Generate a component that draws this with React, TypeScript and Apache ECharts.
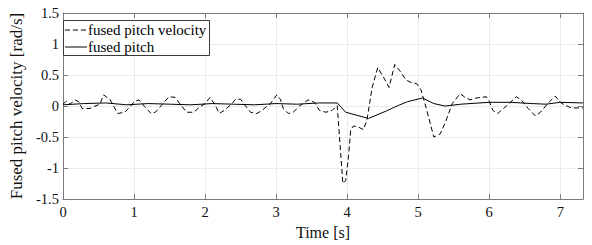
import React, { useEffect, useRef } from "react";
import * as echarts from "echarts";

// Data
const velocityTime = [
  0, 0.05, 0.1, 0.17, 0.22, 0.27, 0.38, 0.45, 0.52, 0.57, 0.66, 0.77, 0.87, 0.94, 1.0, 1.07, 1.15,
  1.24, 1.3, 1.4, 1.49, 1.58, 1.65, 1.74, 1.84, 1.93, 2.0, 2.07, 2.14, 2.2, 2.27, 2.37, 2.43, 2.5,
  2.57, 2.64, 2.73, 2.8, 2.92, 3.01, 3.06, 3.1, 3.17, 3.24, 3.33, 3.45, 3.54, 3.61, 3.7, 3.79, 3.86,
  3.94, 3.98, 4.02, 4.05, 4.09, 4.16, 4.23, 4.28, 4.35, 4.43, 4.51, 4.59, 4.67, 4.74, 4.83, 4.9,
  4.98, 5.04, 5.11, 5.22, 5.31, 5.38, 5.48, 5.59, 5.66, 5.73, 5.82, 5.89, 5.96, 6.0, 6.05, 6.12,
  6.2, 6.28, 6.38, 6.45, 6.55, 6.65, 6.72, 6.84, 6.93, 7.0, 7.07, 7.16, 7.27, 7.32,
];
const velocityValues = [
  0.03, 0.08, 0.03, 0.1, 0.07, -0.04, -0.04, 0.0, 0.03, 0.18, 0.11, -0.12, -0.1, -0.02, 0.07, 0.1,
  -0.01, -0.12, -0.1, 0.03, 0.15, 0.14, 0.03, -0.1, -0.1, -0.01, 0.04, 0.14, 0.02, -0.12, -0.07,
  0.03, 0.11, 0.11, 0.0, -0.1, -0.12, -0.07, 0.04, 0.18, 0.11, -0.04, -0.12, -0.1, 0.0, 0.1, 0.06,
  -0.07, -0.1, -0.07, 0.01, -1.25, -1.2, -0.8, -0.38, -0.32, -0.34, -0.38, -0.22, 0.29, 0.62, 0.47,
  0.3, 0.67, 0.57, 0.42, 0.38, 0.36, 0.26, -0.02, -0.5, -0.45, -0.27, 0.04, 0.2, 0.14, 0.1, 0.13,
  0.14, 0.15, 0.08, -0.07, -0.12, -0.04, 0.04, 0.15, 0.1, -0.04, -0.16, -0.1, 0.06, 0.16, 0.06,
  0.01, -0.03, -0.03, -0.03,
];
const pitchTime = [
  0, 0.3, 0.6, 0.9, 1.2, 1.5, 1.8, 2.1, 2.4, 2.7, 3.0, 3.3, 3.6, 3.86, 3.98, 4.3, 4.55, 4.72, 4.85,
  5.06, 5.22, 5.38, 5.6, 6.0, 6.3, 6.6, 6.8, 7.0, 7.32,
];
const pitchValues = [
  0.02, 0.04, 0.05, 0.02, 0.04, 0.03, 0.02, 0.04, 0.03, 0.02, 0.04, 0.03, 0.05, 0.05, -0.1, -0.2,
  -0.08, 0.01, 0.07, 0.13, 0.04, 0.0, 0.03, 0.06, 0.06, 0.04, 0.03, 0.06, 0.05,
];
const seriesNames = ["fused pitch velocity", "fused pitch"];
const xAxisTitle = "Time [s]";
const yAxisTitle = "Fused pitch velocity [rad/s]";
const xMin = 0;
const xMax = 7.32;
const xStep = 1;
const yMin = -1.5;
const yMax = 1.5;
const yStep = 0.5;

const FONT = "Liberation Serif";
const DASH = [5, 3];

export default function App() {
  const ref = useRef<HTMLDivElement>(null);
  useEffect(() => {
    if (!ref.current) return;
    const chart = echarts.init(ref.current, undefined, { renderer: "svg" });
    const axisColor = "#7a7a7a";
    const gridColor = "#ebebeb";
    const textColor = "#111111";
    const hiddenAxis = {
      axisLine: { show: true, onZero: false, lineStyle: { color: axisColor, width: 1 } },
      axisTick: { show: true, inside: true, length: 5, lineStyle: { color: axisColor } },
      axisLabel: { show: false },
      splitLine: { show: false },
    };
    // legend drawn as graphic (box + line samples + labels)
    const legendX = 63.5;
    const legendY = 20.5;
    const rowY = [30, 47];
    const legendChildren = [
      {
        type: "rect",
        z: 100,
        shape: { x: legendX, y: legendY, width: 146, height: 35 },
        style: { fill: "#ffffff", stroke: "#3a3a3a", lineWidth: 1 },
      },
      {
        type: "line",
        z: 101,
        shape: { x1: 65, y1: rowY[0], x2: 87, y2: rowY[0] },
        style: { stroke: "#000000", lineWidth: 1, lineDash: DASH },
      },
      {
        type: "line",
        z: 101,
        shape: { x1: 65, y1: rowY[1], x2: 87, y2: rowY[1] },
        style: { stroke: "#000000", lineWidth: 1 },
      },
      ...seriesNames.map((n, i) => ({
        type: "text",
        z: 101,
        x: 88,
        y: rowY[i],
        style: {
          text: n,
          fontFamily: FONT,
          fontSize: 15,
          fill: "#000000",
          verticalAlign: "middle",
          align: "left",
        },
      })),
    ];
    chart.setOption({
      animation: false,
      backgroundColor: "#ffffff",
      grid: { left: 54, right: 9, top: 13, bottom: 37, containLabel: false },
      graphic: legendChildren,
      xAxis: [
        {
          type: "value",
          min: xMin,
          max: xMax,
          interval: xStep,
          name: xAxisTitle,
          nameLocation: "middle",
          nameGap: 22,
          nameTextStyle: { fontFamily: FONT, fontSize: 16, color: textColor },
          axisLine: { show: true, onZero: false, lineStyle: { color: axisColor, width: 1 } },
          axisTick: { show: true, inside: true, length: 5, lineStyle: { color: axisColor } },
          axisLabel: {
            fontFamily: FONT,
            fontSize: 14.5,
            color: textColor,
            margin: 5,
            formatter: (v: number) => (Number.isInteger(v) ? String(v) : ""),
          },
          splitLine: { show: true, lineStyle: { color: gridColor, width: 1 } },
        },
        {
          type: "value",
          position: "top",
          min: xMin,
          max: xMax,
          interval: xStep,
          ...hiddenAxis,
        },
      ],
      yAxis: [
        {
          type: "value",
          min: yMin,
          max: yMax,
          interval: yStep,
          name: yAxisTitle,
          nameLocation: "middle",
          nameGap: 38,
          nameTextStyle: { fontFamily: FONT, fontSize: 17, color: textColor },
          axisLine: { show: true, onZero: false, lineStyle: { color: axisColor, width: 1 } },
          axisTick: { show: true, inside: true, length: 5, lineStyle: { color: axisColor } },
          axisLabel: { fontFamily: FONT, fontSize: 14.5, color: textColor, margin: 4 },
          splitLine: { show: true, lineStyle: { color: gridColor, width: 1 } },
        },
        {
          type: "value",
          position: "right",
          min: yMin,
          max: yMax,
          interval: yStep,
          ...hiddenAxis,
        },
      ],
      series: [
        {
          name: seriesNames[0],
          type: "line",
          xAxisIndex: 0,
          yAxisIndex: 0,
          data: velocityTime.map((t, i) => [t, velocityValues[i]]),
          showSymbol: false,
          symbol: "none",
          lineStyle: { color: "#000000", width: 1, type: DASH },
          z: 3,
        },
        {
          name: seriesNames[1],
          type: "line",
          xAxisIndex: 0,
          yAxisIndex: 0,
          data: pitchTime.map((t, i) => [t, pitchValues[i]]),
          showSymbol: false,
          symbol: "none",
          lineStyle: { color: "#000000", width: 1, type: "solid" },
          z: 4,
        },
      ],
    });
    return () => chart.dispose();
  }, []);
  return (
    <div
      ref={ref}
      style={{ position: "fixed", left: 0, top: 0, width: 592, height: 245, background: "#fff" }}
    />
  );
}
